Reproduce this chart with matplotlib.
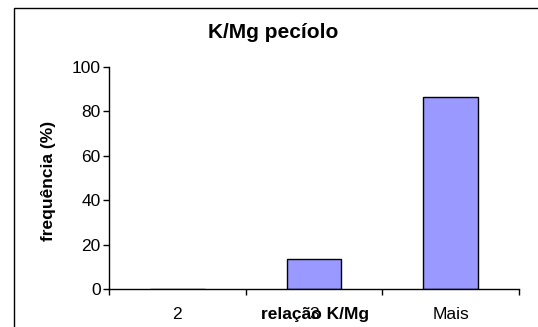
import matplotlib.pyplot as plt
import numpy as np
from matplotlib.patches import Rectangle

plt.rcParams['font.family'] = ['Liberation Sans', 'DejaVu Sans']

categories = ["2", "3", "Mais"]
frequencia = [0.0, 13.33, 86.67]
y_ticks = [0, 20, 40, 60, 80, 100]


def main():
    fig = plt.figure(figsize=(5.38, 3.27), dpi=100)
    W, H = 538.0, 327.0

    # chart area border (runs off the right/bottom edge like the original)
    fig.patches.append(Rectangle((14 / W, -0.05), 1.0, 1 - 8 / H + 0.05,
                                 transform=fig.transFigure, fill=False,
                                 edgecolor="black", linewidth=1.0))

    ax = fig.add_axes([109 / W, 1 - 289 / H, (519 - 109) / W, (289 - 67) / H])
    x = np.arange(len(categories))
    ax.bar(x, frequencia, width=0.4, color="#9999FF", edgecolor="black", linewidth=1.0)

    ax.set_xlim(-0.5, len(categories) - 0.5)
    ax.set_ylim(0, 100)
    ax.set_yticks(y_ticks)
    ax.set_xticks(x)
    ax.set_xticklabels(categories)
    ax.set_xticks(np.arange(len(categories) + 1) - 0.5, minor=True)
    ax.tick_params(axis="x", which="major", length=0, pad=13, labelsize=12.5)
    ax.tick_params(axis="x", which="minor", length=4, width=1)
    ax.tick_params(axis="y", length=4, width=1, labelsize=12.5, pad=2)

    for s in ["top", "right"]:
        ax.spines[s].set_visible(False)
    for s in ["left", "bottom"]:
        ax.spines[s].set_linewidth(1.0)

    fig.text(273 / W, 1 - 33 / H, "K/Mg pecíolo", ha="center", va="center",
             fontsize=15, fontweight="bold")
    fig.text(315 / W, 1 - 315 / H, "relação K/Mg", ha="center", va="center",
             fontsize=12.5, fontweight="bold")
    fig.text(48 / W, 1 - 181 / H, "frequência (%)", ha="center", va="center",
             rotation=90, fontsize=12.5, fontweight="bold")

    fig.savefig("out.png", dpi=100)


if __name__ == "__main__":
    main()
